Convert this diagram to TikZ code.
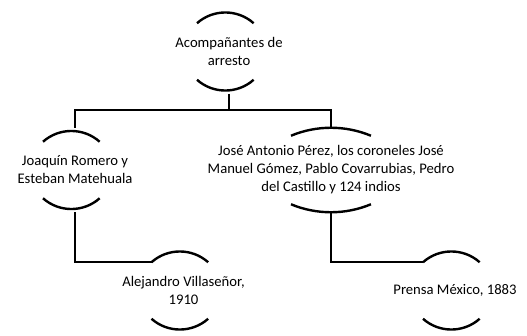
\documentclass[tikz,border=0pt]{standalone}
\usepackage{fontspec}
\setmainfont{Carlito}
\usepackage{tikz}
\usetikzlibrary{positioning}

\begin{document}
\begin{tikzpicture}[
    x=0.75pt, y=0.75pt,
    capbox/.style={inner sep=0pt, minimum height=63pt, align=center, font=\fontsize{11}{13.5}\selectfont},
    arcline/.style={line width=1.8pt},
    conn/.style={line width=1.8pt}
]
\useasboundingbox (0,0) rectangle (527,-335);

% Root
\node[capbox] (root) at (229,-51.5) {Acompañantes de\\arresto};

% Level two
\node[capbox] (joaquin) at (75,-170) {Joaquín Romero y\\Esteban Matehuala};
\node[capbox] (perez) at (331,-170) {José Antonio Pérez, los coroneles José\\Manuel Gómez, Pablo Covarrubias, Pedro\\del Castillo y 124 indios};

% Sources
\node[capbox] (alejandro) at (183.5,-290.5) {Alejandro Villaseñor,\\1910};
\node[capbox] (prensa) at (455,-290.5) {Prensa México, 1883};

% Arcs
\foreach \n in {root,joaquin,alejandro,prensa}{
  \draw[arcline] ([shift={(-32,-14)}]\n.north) arc[start angle=131.6, end angle=48.4, radius=32pt];
  \draw[arcline] ([shift={(-32,14)}]\n.south) arc[start angle=228.4, end angle=311.6, radius=32pt];
}
\draw[arcline] ([shift={(-40,-8)}]perez.north) arc[start angle=112.6, end angle=67.4, radius=78pt];
\draw[arcline] ([shift={(-40,8)}]perez.south) arc[start angle=247.4, end angle=292.6, radius=78pt];

% Connectors
\draw[conn] (root.south) -- ++(0,-16.5) -| (joaquin.north);
\draw[conn] (root.south) -- ++(0,-16.5) -| (perez.north);
\draw[conn] (joaquin.south) |- ([shift={(-32,-14)}]alejandro.north);
\draw[conn] (perez.south) |- ([shift={(-32,-14)}]prensa.north);

\end{tikzpicture}
\end{document}
